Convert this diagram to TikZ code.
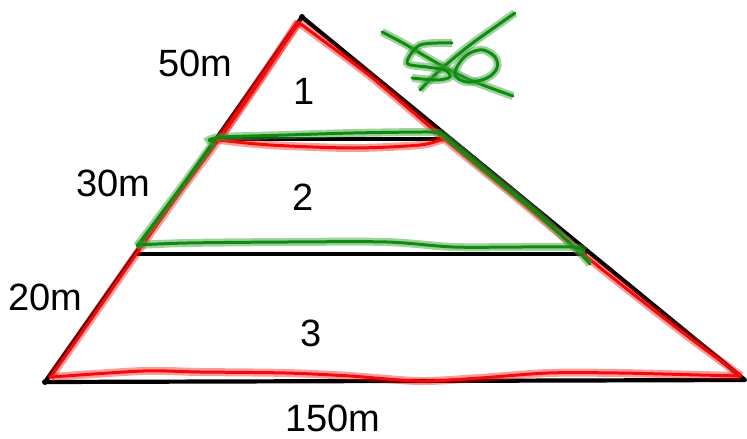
\documentclass[tikz,border=0pt]{standalone}
\usepackage{fontspec}
\setmainfont{Liberation Sans}
\definecolor{penred}{RGB}{245,10,10}
\definecolor{pengreen}{RGB}{15,140,15}
\tikzset{
  blackline/.style={line width=4.2pt,line cap=round,line join=round},
  redpen/.style={penred,line width=3pt,line cap=round,line join=round,
    preaction={draw,penred,opacity=0.4,line width=8pt}},
  greenpen/.style={pengreen,line width=3pt,line cap=round,line join=round,
    preaction={draw,pengreen!80!white,opacity=0.5,line width=8pt}},
  lbl/.style={font=\fontsize{38}{40}\selectfont,inner sep=0pt}
}

\begin{document}
\begin{tikzpicture}[x=1pt,y=-1pt]
\useasboundingbox (0,0) rectangle (747,439);
% corners and cuts
\coordinate (apex) at (302,17);
\coordinate (bl) at (45,382);
\coordinate (br) at (745,380);
\coordinate (cutAl) at (216,139);
\coordinate (cutAr) at (444,139);
\coordinate (cutBl) at (135,254);
\coordinate (cutBr) at (585,254);
% black outline
\draw[blackline] (apex) -- (bl) -- (br) -- cycle;
\draw[blackline] (cutAl) -- (cutAr);
\draw[blackline] (cutBl) -- (cutBr);
\fill (apex) circle (3pt);
\fill (bl) circle (3pt);
% red strokes
\draw[redpen] plot[smooth,tension=0.5] coordinates {(299,22) (258,82) (217,142) (178,195) (137,253) (92,318) (50,378)};
\draw[redpen] plot[smooth,tension=0.5] coordinates {(298,22) (259,82) (219,140)};
\draw[redpen] plot[smooth,tension=0.5] coordinates {(219,140) (270,145) (353,148) (420,145) (443,139)};
\draw[redpen] plot[smooth,tension=0.4] coordinates {(298,22) (370,76) (442,137) (518,199) (593,262) (678,329) (741,376)};
\draw[redpen] plot[smooth,tension=0.5] coordinates {(741,376) (700,375) (619,373) (548,373) (480,378) (419,381) (350,376) (286,373) (200,372) (143,371) (52,377)};
% green strokes
\draw[greenpen] plot[smooth,tension=0.4] coordinates {(137,246) (176,194) (214,142)};
\draw[greenpen] plot[smooth,tension=0.4] coordinates {(214,142) (209,140) (222,137) (287,135) (353,133) (428,132) (442,134)};
\draw[greenpen] plot[smooth,tension=0.4] coordinates {(442,134) (487,172) (537,213) (577,250) (590,264)};
\draw[greenpen] plot[smooth,tension=0.5] coordinates {(137,245) (187,243) (287,242) (387,242) (453,247) (520,247) (573,247) (584,251)};
% crossed out 50
\draw[greenpen] plot[smooth,tension=0.5] coordinates {(382,32) (403,43) (437,63) (470,80) (513,96)};
\draw[greenpen] plot[smooth,tension=0.5] coordinates {(515,13) (470,45) (440,70) (420,90)};
\draw[greenpen] plot[smooth,tension=0.5] coordinates {(452,43) (420,45) (407,63) (427,67) (445,70) (450,77) (437,80) (412,78)};
\draw[greenpen] plot[smooth cycle,tension=0.6] coordinates {(483,50) (495,57) (497,68) (487,78) (467,82) (455,75) (460,62) (470,53)};
% labels
\node[lbl] (lenTop) at (195,63) {50m};
\node[lbl] (partOne) at (304,91) {1};
\node[lbl] (lenMid) at (113,183) {30m};
\node[lbl] (partTwo) at (303,197) {2};
\node[lbl] (lenLow) at (45,297) {20m};
\node[lbl] (partThree) at (311,333) {3};
\node[lbl] (lenBase) at (333,418) {150m};
\end{tikzpicture}
\end{document}
